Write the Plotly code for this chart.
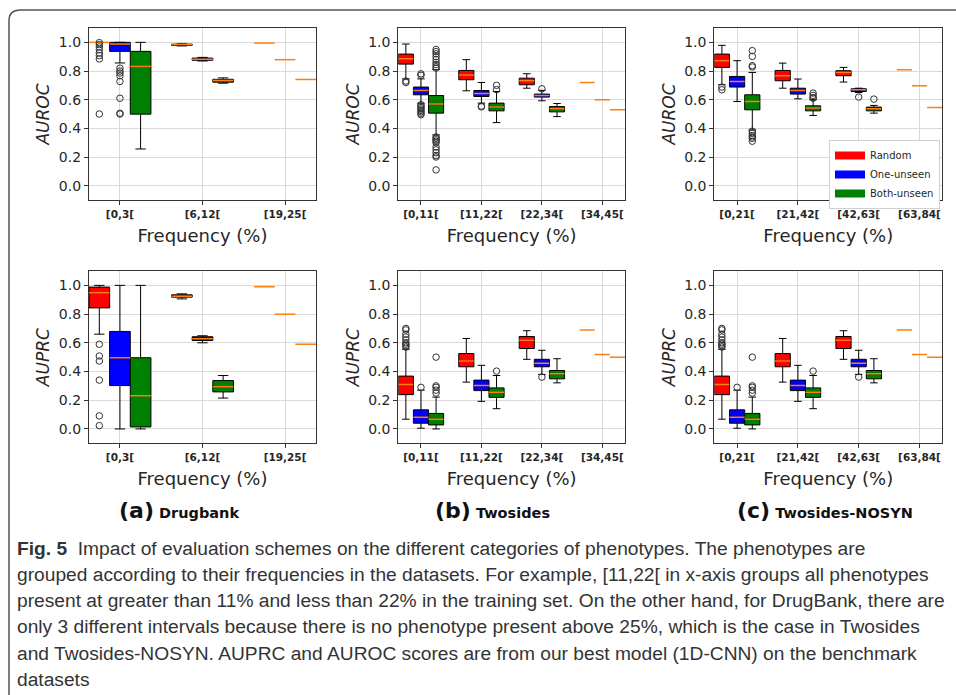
import plotly.graph_objects as go

SERIES = ["Random", "One-unseen", "Both-unseen"]
COLORS = ["#ff0000", "#0000ff", "#008000"]
MEDIAN_COLOR = "#ff7f0e"

DB_GROUPS = ["[0,3[", "[6,12[", "[19,25["]
TW_GROUPS = ["[0,11[", "[11,22[", "[22,34[", "[34,45["]
NS_GROUPS = ["[0,21[", "[21,42[", "[42,63[", "[63,84["]

# rows = series (Random, One-unseen, Both-unseen); columns = frequency groups
# ---- Drugbank AUROC
DB_ROC_LO = [[1.0, 0.975, 0.995], [0.856, 0.870, 0.879], [0.256, 0.715, 0.741]]
DB_ROC_Q1 = [[1.0, 0.979, 0.995], [0.937, 0.875, 0.879], [0.499, 0.722, 0.741]]
DB_ROC_MED = [[1.0, 0.985, 0.995], [0.988, 0.882, 0.879], [0.832, 0.734, 0.741]]
DB_ROC_Q3 = [[1.0, 0.987, 0.995], [1.0, 0.890, 0.879], [0.937, 0.742, 0.741]]
DB_ROC_HI = [[1.0, 0.990, 0.995], [1.0, 0.895, 0.879], [1.0, 0.752, 0.741]]
DB_ROC_OUT = [[[0.998, 0.984, 0.968, 0.949, 0.926, 0.907, 0.884, 0.50], [], []],
              [[0.82, 0.80, 0.786, 0.767, 0.727, 0.61, 0.505, 0.50], [], []],
              [[], [], []]]

# ---- Twosides AUROC
TW_ROC_LO = [[0.745, 0.662, 0.680, 0.720], [0.575, 0.576, 0.592, 0.599], [0.354, 0.440, 0.482, 0.529]]
TW_ROC_Q1 = [[0.848, 0.739, 0.704, 0.720], [0.634, 0.622, 0.618, 0.599], [0.506, 0.522, 0.515, 0.529]]
TW_ROC_MED = [[0.886, 0.772, 0.732, 0.720], [0.664, 0.643, 0.629, 0.599], [0.569, 0.548, 0.536, 0.529]]
TW_ROC_Q3 = [[0.918, 0.804, 0.750, 0.720], [0.688, 0.664, 0.639, 0.599], [0.629, 0.576, 0.552, 0.529]]
TW_ROC_HI = [[0.988, 0.879, 0.781, 0.720], [0.745, 0.720, 0.665, 0.599], [0.810, 0.657, 0.573, 0.529]]
TW_ROC_OUT = [[[0.73, 0.72], [], [], []],
              [[0.78, 0.77, 0.565, 0.555, 0.545, 0.535, 0.525, 0.515, 0.505, 0.495], [0.555, 0.55], [0.676], []],
              [[0.95, 0.935, 0.92, 0.90, 0.88, 0.86, 0.845, 0.83, 0.82,
                0.34, 0.33, 0.32, 0.31, 0.30, 0.27, 0.25, 0.23, 0.21, 0.20, 0.11], [0.70, 0.67], [], []]]

# ---- Twosides-NOSYN AUROC
NS_ROC_LO = [[0.704, 0.680, 0.723, 0.809], [0.587, 0.606, 0.650, 0.697], [0.389, 0.490, 0.506, 0.545]]
NS_ROC_Q1 = [[0.825, 0.732, 0.767, 0.809], [0.688, 0.639, 0.657, 0.697], [0.529, 0.522, 0.522, 0.545]]
NS_ROC_MED = [[0.872, 0.767, 0.790, 0.809], [0.727, 0.664, 0.669, 0.697], [0.587, 0.541, 0.536, 0.545]]
NS_ROC_Q3 = [[0.918, 0.804, 0.802, 0.809], [0.762, 0.680, 0.676, 0.697], [0.634, 0.557, 0.548, 0.545]]
NS_ROC_HI = [[0.979, 0.855, 0.825, 0.809], [0.872, 0.744, 0.680, 0.697], [0.790, 0.600, 0.560, 0.545]]
NS_ROC_OUT = [[[0.688, 0.669], [], [], []],
              [[], [], [0.618], []],
              [[0.942, 0.902, 0.837, 0.828, 0.38, 0.365, 0.35, 0.34, 0.33, 0.31],
               [0.646, 0.63, 0.615, 0.61], [0.604], []]]

# ---- Drugbank AUPRC
DB_PRC_LO = [[0.660, 0.906, 0.990], [0.000, 0.600, 0.799], [0.000, 0.215, 0.590]]
DB_PRC_Q1 = [[0.843, 0.918, 0.990], [0.302, 0.616, 0.799], [0.014, 0.258, 0.590]]
DB_PRC_MED = [[0.948, 0.925, 0.990], [0.496, 0.628, 0.799], [0.232, 0.293, 0.590]]
DB_PRC_Q3 = [[0.988, 0.934, 0.990], [0.679, 0.642, 0.799], [0.496, 0.337, 0.590]]
DB_PRC_HI = [[1.000, 0.941, 0.990], [1.000, 0.649, 0.799], [1.000, 0.372, 0.590]]
DB_PRC_OUT = [[[0.59, 0.508, 0.473, 0.34, 0.091, 0.023], [], []],
              [[], [], []],
              [[], [], []]]

# ---- Twosides AUPRC
TW_PRC_LO = [[0.068, 0.326, 0.485, 0.689], [0.005, 0.192, 0.380, 0.518], [0.000, 0.141, 0.321, 0.500]]
TW_PRC_Q1 = [[0.239, 0.433, 0.560, 0.689], [0.040, 0.267, 0.433, 0.518], [0.028, 0.220, 0.349, 0.500]]
TW_PRC_MED = [[0.309, 0.473, 0.618, 0.689], [0.082, 0.302, 0.457, 0.518], [0.068, 0.255, 0.384, 0.500]]
TW_PRC_Q3 = [[0.368, 0.525, 0.644, 0.689], [0.133, 0.340, 0.485, 0.518], [0.108, 0.286, 0.407, 0.500]]
TW_PRC_HI = [[0.555, 0.630, 0.684, 0.689], [0.270, 0.443, 0.548, 0.518], [0.222, 0.372, 0.489, 0.500]]
TW_PRC_OUT = [[[0.57, 0.58, 0.59, 0.60, 0.62, 0.64, 0.66, 0.69, 0.70], [], [], []],
              [[0.29], [], [0.361], []],
              [[0.25, 0.27, 0.29, 0.30, 0.50], [0.403], [], []]]

# ---- Twosides-NOSYN AUPRC
NS_PRC_LO = [[0.068, 0.326, 0.485, 0.689], [0.005, 0.192, 0.380, 0.518], [0.000, 0.141, 0.321, 0.500]]
NS_PRC_Q1 = [[0.239, 0.433, 0.560, 0.689], [0.040, 0.267, 0.433, 0.518], [0.028, 0.220, 0.349, 0.500]]
NS_PRC_MED = [[0.309, 0.473, 0.618, 0.689], [0.082, 0.302, 0.457, 0.518], [0.068, 0.255, 0.384, 0.500]]
NS_PRC_Q3 = [[0.368, 0.525, 0.644, 0.689], [0.133, 0.340, 0.485, 0.518], [0.108, 0.286, 0.407, 0.500]]
NS_PRC_HI = [[0.555, 0.630, 0.684, 0.689], [0.270, 0.443, 0.548, 0.518], [0.222, 0.372, 0.489, 0.500]]
NS_PRC_OUT = [[[0.57, 0.58, 0.59, 0.60, 0.62, 0.64, 0.66, 0.69, 0.70], [], [], []],
              [[0.29], [], [0.361], []],
              [[0.25, 0.27, 0.29, 0.30, 0.50], [0.403], [], []]]

Y_TICKS = [0.0, 0.2, 0.4, 0.6, 0.8, 1.0]

PANEL_LABELS = [("(a)", "Drugbank"), ("(b)", "Twosides"), ("(c)", "Twosides-NOSYN")]

CAPTION_LINES = [
    "<b>Fig. 5</b>\u00a0\u00a0Impact of evaluation schemes on the different categories of phenotypes. The phenotypes are",
    "grouped according to their frequencies in the datasets. For example, [11,22[ in x-axis groups all phenotypes",
    "present at greater than 11% and less than 22% in the training set. On the other hand, for DrugBank, there are",
    "only 3 different intervals because there is no phenotype present above 25%, which is the case in Twosides",
    "and Twosides-NOSYN. AUPRC and AUROC scores are from our best model (1D-CNN) on the benchmark",
    "datasets",
]

PANELS = [
    (DB_GROUPS, DB_ROC_LO, DB_ROC_Q1, DB_ROC_MED, DB_ROC_Q3, DB_ROC_HI, DB_ROC_OUT, "AUROC"),
    (TW_GROUPS, TW_ROC_LO, TW_ROC_Q1, TW_ROC_MED, TW_ROC_Q3, TW_ROC_HI, TW_ROC_OUT, "AUROC"),
    (NS_GROUPS, NS_ROC_LO, NS_ROC_Q1, NS_ROC_MED, NS_ROC_Q3, NS_ROC_HI, NS_ROC_OUT, "AUROC"),
    (DB_GROUPS, DB_PRC_LO, DB_PRC_Q1, DB_PRC_MED, DB_PRC_Q3, DB_PRC_HI, DB_PRC_OUT, "AUPRC"),
    (TW_GROUPS, TW_PRC_LO, TW_PRC_Q1, TW_PRC_MED, TW_PRC_Q3, TW_PRC_HI, TW_PRC_OUT, "AUPRC"),
    (NS_GROUPS, NS_PRC_LO, NS_PRC_Q1, NS_PRC_MED, NS_PRC_Q3, NS_PRC_HI, NS_PRC_OUT, "AUPRC"),
]

# ---------------- layout constants (pixels in a 956x695 page) ----------------
W, H = 956, 695
OFFSETS = [-0.25, 0.0, 0.25]
BOX_W = 0.25
COL_PX = [(89, 316), (398.3, 625), (714.3, 942.3)]
ROW_PX = [(28, 200), (271, 443.3)]
TEXT = "#262626"

fig = go.Figure()
layout = dict(
    width=W, height=H, margin=dict(l=0, r=0, t=0, b=0),
    paper_bgcolor="white", plot_bgcolor="white", boxmode="overlay",
    font=dict(family="DejaVu Sans", color=TEXT),
    legend=dict(x=829 / W, y=1 - 140 / H, xanchor="left", yanchor="top",
                bgcolor="white", bordercolor="#d0d0d0", borderwidth=1,
                font=dict(family="DejaVu Sans", size=10, color=TEXT),
                itemwidth=30, tracegroupgap=0),
)

for idx, (groups, lo, q1, med, q3, hi, out, ytitle) in enumerate(PANELS):
    r, c = divmod(idx, 3)
    n = len(groups)
    sfx = "" if idx == 0 else str(idx + 1)
    xa, ya = "x" + sfx, "y" + sfx
    x0, x1 = COL_PX[c]
    y0, y1 = ROW_PX[r]
    axis_common = dict(showline=True, mirror=True, linecolor="#333333", linewidth=1.2,
                       showgrid=True, gridcolor="#d9d9d9", gridwidth=1, zeroline=False,
                       ticks="outside", ticklen=4, tickcolor="#333333")
    layout["xaxis" + sfx] = dict(
        domain=[x0 / W, x1 / W], anchor=ya,
        range=[OFFSETS[0] - BOX_W / 2, (n - 1) + OFFSETS[-1] + BOX_W / 2],
        tickmode="array", tickvals=list(range(n)), ticktext=["<b>%s</b>" % g for g in groups],
        tickfont=dict(size=10.5, color=TEXT),
        title=dict(text="Frequency (%)", font=dict(size=18, color=TEXT), standoff=10),
        **axis_common)
    layout["yaxis" + sfx] = dict(
        domain=[1 - y1 / H, 1 - y0 / H], anchor=xa,
        range=[-0.1, 1.1], tickmode="array", tickvals=Y_TICKS,
        ticktext=["%.1f" % t for t in Y_TICKS],
        tickfont=dict(size=14, color=TEXT),
        title=dict(text=ytitle, font=dict(size=17, style="italic", color=TEXT), standoff=4),
        **axis_common)

    for s in range(3):
        pos = [g + OFFSETS[s] for g in range(n)]
        keep = [g for g in range(n) if hi[s][g] > lo[s][g]]
        if keep:
            fig.add_trace(go.Box(
                x=[pos[g] for g in keep],
                q1=[q1[s][g] for g in keep], median=[med[s][g] for g in keep],
                q3=[q3[s][g] for g in keep],
                lowerfence=[lo[s][g] for g in keep], upperfence=[hi[s][g] for g in keep],
                width=BOX_W, whiskerwidth=0.5, orientation="v", boxpoints=False,
                fillcolor=COLORS[s], line=dict(color="black", width=1),
                showlegend=False, hoverinfo="skip", xaxis=xa, yaxis=ya))
        mx, my, ox, oy = [], [], [], []
        for g in range(n):
            mx += [pos[g] - BOX_W / 2, pos[g] + BOX_W / 2, None]
            my += [med[s][g], med[s][g], None]
            ox += [pos[g]] * len(out[s][g])
            oy += list(out[s][g])
        fig.add_trace(go.Scatter(x=mx, y=my, mode="lines",
                                 line=dict(color=MEDIAN_COLOR, width=1.5),
                                 showlegend=False, hoverinfo="skip", xaxis=xa, yaxis=ya))
        if ox:
            fig.add_trace(go.Scatter(x=ox, y=oy, mode="markers",
                                     marker=dict(symbol="circle-open", size=6.5,
                                                 color="#333333", line=dict(width=1)),
                                     showlegend=False, hoverinfo="skip", xaxis=xa, yaxis=ya))

# legend entries (shown in the top-right panel)
for s in range(3):
    fig.add_trace(go.Scatter(x=[None], y=[None], mode="lines", name=SERIES[s],
                             line=dict(color=COLORS[s], width=8),
                             xaxis="x3", yaxis="y3", showlegend=True))

annotations = []
LABEL_X = [117, 433, 735]
for (tag, name), lx in zip(PANEL_LABELS, LABEL_X):
    annotations.append(dict(
        xref="paper", yref="paper", x=lx / W, y=1 - 510 / H, xanchor="left", yanchor="middle",
        text="<b><span style='font-size:22px'>%s</span> %s</b>" % (tag, name),
        showarrow=False, font=dict(family="DejaVu Sans", size=14.5, color="#111111")))

CAP_Y0, CAP_DY = 548, 26.3
for i, line in enumerate(CAPTION_LINES):
    annotations.append(dict(
        xref="paper", yref="paper", x=15 / W, y=1 - (CAP_Y0 + i * CAP_DY) / H,
        xanchor="left", yanchor="middle", text=line, showarrow=False, align="left",
        font=dict(family="Liberation Sans", size=19.2, color="#333333")))
layout["annotations"] = annotations

rx, ry = 11 / W, 11 / H
fx, fy = 9 / W, 1 - 10 / H
layout["shapes"] = [dict(
    type="path", xref="paper", yref="paper",
    path="M %.5f,-0.02 L %.5f,%.5f Q %.5f,%.5f %.5f,%.5f L 1.02,%.5f" % (
        fx, fx, fy - ry, fx, fy, fx + rx, fy, fy),
    line=dict(color="#555555", width=1.5))]

fig.update_layout(**layout)
fig.write_html("out.html")
